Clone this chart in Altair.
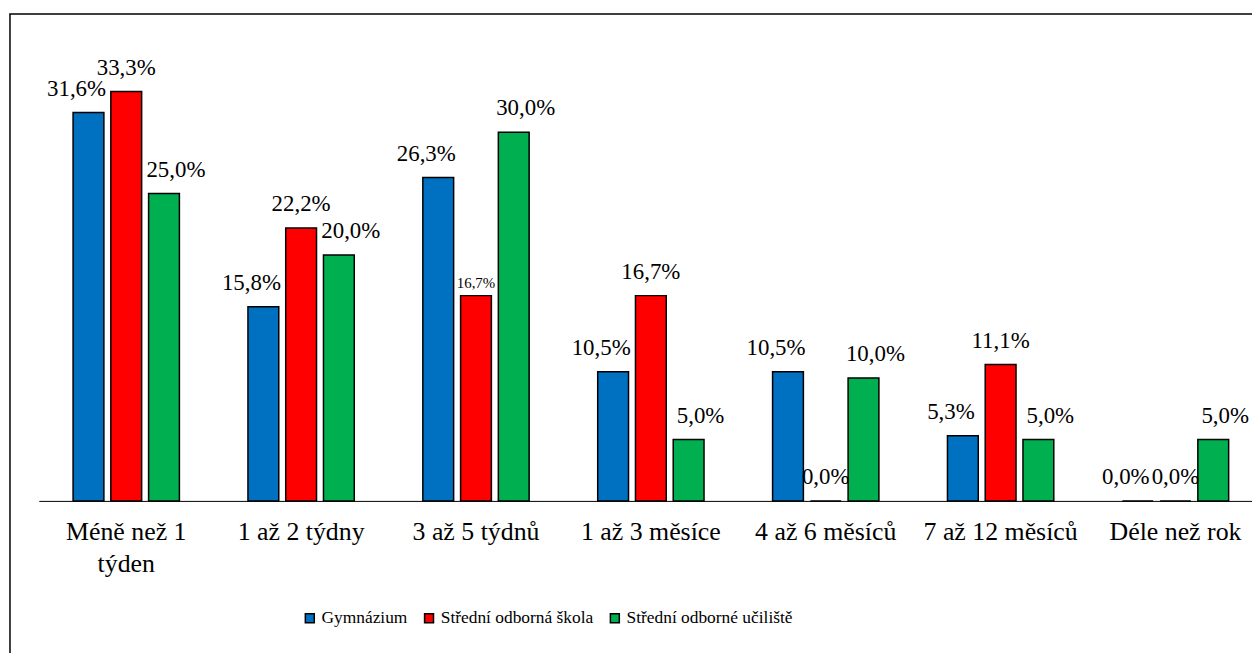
import altair as alt
import pandas as pd

kategorie = ["Méně než 1 týden", "1 až 2 týdny", "3 až 5 týdnů", "1 až 3 měsíce",
             "4 až 6 měsíců", "7 až 12 měsíců", "Déle než rok"]
skupiny = ["Gymnázium", "Střední odborná škola", "Střední odborné učiliště"]
gymnazium = [31.6, 15.8, 26.3, 10.5, 10.5, 5.3, 0.0]
sos = [33.3, 22.2, 16.7, 16.7, 0.0, 11.1, 0.0]
sou = [25.0, 20.0, 30.0, 5.0, 10.0, 5.0, 5.0]
barvy = ["#0070C0", "#FF0000", "#00B050"]

rows = []
for s, vals in zip(skupiny, [gymnazium, sos, sou]):
    for k, v in zip(kategorie, vals):
        rows.append({"kat": k, "typ": s, "v": v})
df = pd.DataFrame(rows)

FONT = "Times New Roman, Liberation Serif, DejaVu Serif, serif"
W, H = 1221, 433

x_enc = alt.X(
    "kat:N", sort=kategorie,
    scale=alt.Scale(range=[0, 1232], paddingInner=0.392, paddingOuter=0.196),
    axis=alt.Axis(title=None, labelAngle=0, ticks=False, tickSize=0,
                  domainColor="black", domainWidth=1,
                  labelFont=FONT, labelFontSize=26, labelColor="black",
                  labelPadding=18, labelLineHeight=32, labelLimit=0,
                  labelOverlap=False,
                  labelExpr="datum.label == 'Méně než 1 týden' ? ['Méně než 1', 'týden'] : datum.label"),
)
xo_enc = alt.XOffset("typ:N", sort=skupiny,
                     scale=alt.Scale(domain=skupiny, paddingInner=0.184, paddingOuter=0))
y_enc = alt.Y("v:Q", scale=alt.Scale(domain=[0, 35]), axis=None)

base = alt.Chart(df).transform_calculate(
    lbl="replace(format(datum.v, '.1f'), '.', ',') + '%'"
).encode(x=x_enc, xOffset=xo_enc, y=y_enc)

bars = base.mark_bar(stroke="black", strokeWidth=1.5).encode(
    color=alt.Color("typ:N", sort=skupiny,
                    scale=alt.Scale(domain=skupiny, range=barvy),
                    legend=alt.Legend(title=None, orient="none", legendX=264, legendY=542,
                                      direction="horizontal", symbolType="square",
                                      symbolSize=81, symbolStrokeColor="black",
                                      symbolStrokeWidth=1.5, labelFont=FONT,
                                      labelFontSize=17.5, labelColor="black", labelLimit=0,
                                      columnPadding=12, labelOffset=3, padding=0))
)

def labels(filt, dx, size=23, dy=-17):
    return base.transform_filter(filt).mark_text(
        font=FONT, fontSize=size, baseline="alphabetic", dx=dx, dy=dy, color="black"
    ).encode(text="lbl:N")

small = "datum.typ == 'Střední odborná škola' && datum.kat == '3 až 5 týdnů'"
t_g = labels("datum.typ == 'Gymnázium'", -12)
t_s = labels("datum.typ == 'Střední odborná škola' && !(" + small + ")", 0)
t_s_small = labels(small, 0, size=15, dy=-8)
t_u = labels("datum.typ == 'Střední odborné učiliště'", 12)

frame = alt.Chart(pd.DataFrame({"f": [0]})).mark_rect(
    fill="transparent", stroke="black", strokeWidth=1.5
).encode(x=alt.value(-29), x2=alt.value(1300), y=alt.value(-57), y2=alt.value(700))

chart = alt.layer(frame, bars, t_g, t_s, t_s_small, t_u).properties(
    width=W, height=H,
    autosize=alt.AutoSizeParams(type="none"),
    padding={"left": 31, "top": 61, "right": 0, "bottom": 151},
    background="white",
).configure_view(stroke=None)

chart.save("out.html", embed_options={"renderer": "svg", "actions": False})
